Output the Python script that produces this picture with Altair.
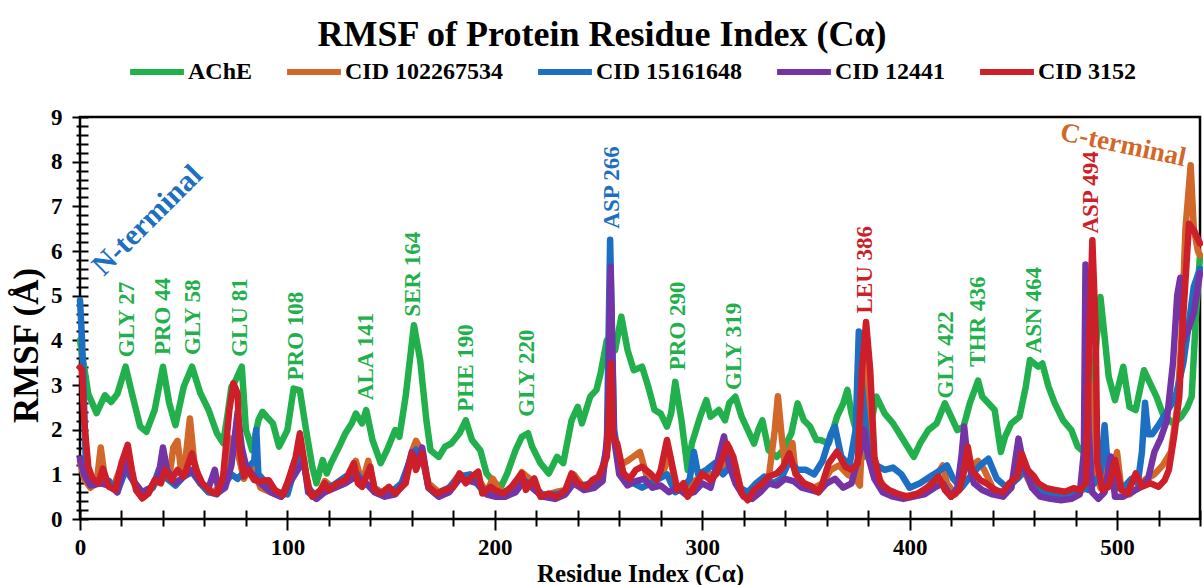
import altair as alt
import pandas as pd

SERIES = ["AChE", "CID 102267534", "CID 15161648", "CID 12441", "CID 3152"]
COLORS = ["#21b04b", "#d2672a", "#1c6fc2", "#7434a6", "#cc1f2a"]
FONT = "Liberation Serif"

# ---- AChE (green)
ache_x = [0, 1, 4, 8, 12, 15, 18, 22, 25, 29, 32, 36, 40, 43, 46, 50, 54, 58, 62, 66, 69, 71, 73, 75, 78, 80, 83, 86, 88,
          90, 93, 96, 100, 103, 106, 109, 112, 114, 117, 119, 121, 125, 128, 131, 133, 136, 138, 141, 145, 148, 152, 154,
          157, 161, 164, 167, 169, 173, 176, 179, 183, 186, 189, 193, 196, 200, 203, 206, 210, 213, 216, 218, 222, 226,
          230, 233, 237, 240, 242, 246, 249, 251, 254, 258, 261, 264, 267, 271, 274, 277, 280, 283, 285, 287, 290, 293,
          295, 299, 302, 304, 308, 311, 313, 316, 319, 322, 325, 327, 329, 332, 336, 339, 343, 346, 349, 352, 355, 357,
          361, 365, 368, 370, 372, 375, 378, 382, 384, 388, 392, 396, 400, 402, 405, 409, 413, 417, 420, 423, 426, 429,
          433, 435, 438, 441, 444, 446, 449, 453, 456, 458, 462, 464, 467, 470, 474, 478, 481, 484, 486, 490, 492, 494,
          496, 499, 503, 506, 509, 513, 516, 519, 522, 527, 531, 534, 536, 538, 540]
ache_y = [4.0, 3.7, 2.8, 2.37, 2.77, 2.62, 2.8, 3.41, 2.82, 2.07, 1.95, 2.44, 3.41, 2.6, 2.1, 2.96, 3.41, 2.82, 2.44, 1.92,
          1.7, 2.29, 2.96, 3.1, 3.41, 2.0, 1.54, 2.21, 2.4, 2.29, 2.14, 1.62, 1.99, 2.92, 2.88, 1.99, 1.17, 0.8, 1.32, 1.02,
          1.25, 1.62, 1.92, 2.14, 2.36, 2.14, 2.44, 1.77, 1.25, 1.54, 1.99, 1.84, 2.74, 4.34, 3.56, 2.21, 1.54, 1.39, 1.62,
          1.69, 1.92, 2.21, 1.77, 1.54, 1.02, 0.8, 0.72, 1.02, 1.54, 1.84, 1.92, 1.62, 1.25, 1.02, 1.39, 1.25, 2.21, 2.51,
          2.14, 2.74, 2.89, 3.26, 4.0, 3.78, 4.53, 3.78, 3.33, 3.41, 2.96, 2.44, 2.36, 2.07, 2.36, 3.07, 2.21, 1.1, 1.69,
          2.29, 2.66, 2.29, 2.44, 2.21, 2.59, 2.74, 2.29, 1.99, 1.69, 1.99, 2.21, 1.54, 1.39, 1.54, 1.92, 2.59, 2.21, 2.07,
          1.77, 1.77, 1.69, 2.29, 2.59, 2.89, 2.36, 1.84, 1.39, 2.29, 2.74, 2.36, 2.14, 1.84, 1.54, 1.39, 1.69, 1.99, 2.14,
          2.59, 2.29, 1.99, 2.07, 2.59, 3.1, 2.74, 2.59, 2.44, 1.5, 1.84, 2.14, 2.29, 2.96, 3.56, 3.41, 3.48, 2.96, 2.59,
          2.21, 1.99, 1.62, 1.5, 1.5, 3.93, 4.97, 4.08, 3.18, 2.66, 3.41, 2.51, 2.44, 3.33, 3.03, 2.74, 2.36, 2.14, 2.29,
          2.51, 2.74, 4.5, 5.9]

# ---- CID 102267534 (orange)
c1_x = [0, 2, 5, 8, 10, 12, 16, 20, 23, 26, 30, 35, 39, 43, 45, 47, 49, 51, 53, 55, 58, 62, 66, 70, 73, 76, 79, 83, 87,
        92, 97, 101, 105, 108, 111, 115, 118, 122, 127, 130, 133, 136, 139, 142, 147, 152, 157, 160, 162, 165, 168, 173,
        178, 183, 188, 192, 196, 199, 203, 208, 213, 218, 223, 229, 234, 238, 243, 248, 252, 254.5, 256, 257.5, 260,
        264, 267, 270, 273, 277, 281, 284, 287, 291, 294, 298, 302, 306, 310, 313, 316, 319, 323, 328, 332, 335, 336.5,
        338, 340, 342, 343.5, 345, 349, 354, 358, 362, 366, 370, 374, 376, 378, 379.5, 381, 384, 388, 392, 397, 402,
        407, 412, 416, 418, 422, 425, 427, 430, 433, 436, 440, 445, 449, 452.5, 455, 459, 463, 468, 473, 478, 482, 485,
        487, 488.2, 489.5, 492, 494.5, 497, 500, 502, 506, 510, 514, 518, 522, 526, 529, 531, 533, 535.5, 537, 539, 540]
c1_y = [1.3, 0.9, 0.7, 0.8, 1.6, 0.9, 0.7, 1.2, 1.5, 0.8, 0.5, 0.7, 1.0, 0.9, 1.6, 1.75, 1.0, 1.4, 2.25, 1.3, 0.8, 0.6,
        0.65, 0.9, 1.8, 1.5, 0.9, 1.2, 0.7, 0.6, 0.5, 0.9, 1.5, 1.2, 0.6, 0.55, 0.85, 0.7, 0.8, 1.0, 1.3, 0.8, 1.3, 0.7,
        0.55, 0.6, 0.9, 1.5, 1.75, 1.5, 0.8, 0.6, 0.7, 1.0, 0.9, 0.9, 0.6, 0.9, 0.6, 0.65, 1.05, 0.85, 0.5, 0.6, 0.65,
        1.0, 0.7, 0.85, 1.0, 1.6, 3.0, 1.8, 1.2, 1.3, 1.4, 1.5, 1.0, 0.9, 1.0, 1.5, 0.8, 0.6, 0.8, 0.9, 1.0, 1.0, 1.2,
        1.6, 1.2, 0.6, 0.5, 0.7, 0.9, 2.0, 2.75, 2.0, 1.1, 1.5, 1.7, 1.0, 0.8, 0.7, 0.8, 1.1, 1.2, 1.0, 0.9, 0.75, 2.8,
        3.8, 2.0, 1.0, 0.7, 0.55, 0.5, 0.55, 0.6, 0.9, 1.2, 0.8, 0.55, 0.8, 1.5, 1.2, 1.3, 1.1, 0.7, 0.55, 0.7, 1.5,
        1.1, 0.7, 0.55, 0.5, 0.45, 0.5, 0.6, 0.7, 2.0, 3.0, 1.0, 0.7, 1.4, 0.8, 1.5, 0.7, 0.55, 0.7, 0.9, 1.0, 1.2,
        1.5, 2.5, 4.0, 6.5, 7.92, 6.5, 6.0, 5.9]

# ---- CID 15161648 (blue)
c2_x = [0, 1, 3, 6, 10, 14, 18, 22, 25, 30, 35, 38, 42, 46, 50, 54, 58, 62, 66, 70, 73, 76, 80, 84, 85, 86, 90, 95, 100,
        104, 107, 110, 114, 118, 122, 128, 133, 137, 141, 146, 150, 155, 159, 162, 165, 168, 172, 178, 183, 188, 193,
        198, 203, 208, 213, 218, 223, 229, 234, 238, 242, 247, 251, 254, 255.6, 257.5, 260, 263, 267, 271, 275, 279,
        283, 287, 291, 294, 296, 298, 302, 306, 310, 314, 318, 322, 326, 330, 334, 338, 342, 346, 350, 354, 358, 362,
        364, 367, 371, 374, 375.5, 377, 380, 384, 388, 392, 396, 400, 405, 410, 415, 418, 421, 425, 430, 434, 438, 442,
        447, 452, 456, 460, 465, 470, 475, 480, 484, 486, 489, 492, 494, 496, 499, 503, 507, 510, 512, 513.5, 515, 517,
        520, 524, 528, 532, 535, 537, 540]
c2_y = [4.9, 4.0, 1.0, 0.8, 0.8, 0.85, 0.6, 1.1, 0.9, 0.55, 0.7, 1.1, 0.9, 0.75, 0.95, 1.05, 0.8, 0.6, 0.55, 0.8, 1.0,
        0.9, 1.1, 1.3, 2.0, 1.0, 0.8, 0.6, 0.55, 1.2, 1.5, 0.7, 0.5, 0.7, 0.75, 0.95, 1.05, 0.8, 0.7, 0.55, 0.6, 0.8,
        1.3, 1.55, 1.4, 0.7, 0.55, 0.7, 0.95, 1.0, 0.7, 0.6, 0.55, 0.6, 0.9, 0.75, 0.55, 0.55, 0.6, 0.85, 0.75, 0.8,
        0.95, 1.6, 6.25, 2.0, 1.3, 0.9, 0.8, 0.7, 0.8, 0.9, 1.0, 0.6, 0.7, 0.9, 1.5, 1.0, 1.1, 1.25, 1.0, 1.2, 0.7,
        0.6, 0.8, 0.95, 0.8, 0.9, 1.3, 1.1, 1.1, 1.0, 1.3, 1.9, 2.07, 1.4, 1.2, 2.0, 4.2, 3.0, 1.5, 1.2, 1.1, 1.15, 1.0,
        0.7, 0.8, 0.95, 1.1, 1.2, 0.9, 0.7, 1.0, 1.2, 1.35, 0.9, 0.7, 0.9, 1.1, 0.8, 0.6, 0.55, 0.5, 0.6, 0.7, 0.65,
        0.8, 1.0, 2.1, 0.9, 0.7, 0.7, 0.9, 0.8, 1.5, 2.6, 1.9, 1.9, 2.1, 2.4, 2.7, 3.5, 4.5, 5.2, 5.6]

# ---- CID 12441 (purple)
c3_x = [0, 2, 5, 10, 14, 18, 22, 25, 30, 34, 38, 40, 42, 46, 50, 54, 58, 62, 65, 67, 70, 73, 76, 78, 80, 83, 87, 92, 97,
        101, 105, 108, 110, 114, 118, 123, 128, 133, 138, 142, 147, 152, 156, 160, 163, 165, 168, 173, 178, 183, 188,
        192, 196, 200, 205, 210, 214, 218, 223, 229, 234, 238, 243, 248, 252, 254.5, 255.8, 257.5, 260, 264, 268, 272,
        276, 280, 284, 288, 292, 296, 300, 304, 308, 310.5, 313, 316, 320, 324, 328, 332, 336, 340, 344, 348, 352, 356,
        360, 364, 368, 372, 376, 378, 380, 383, 387, 392, 397, 402, 407, 412, 416, 420, 423, 425, 426.3, 428, 431, 435,
        440, 445, 449, 452.5, 455, 459, 463, 468, 473, 478, 482, 484, 484.8, 486.3, 488, 491, 494, 497, 499, 503, 507,
        511, 515, 518, 521, 524, 527, 529, 530.5, 532, 534, 537, 540]
c3_y = [1.35, 1.0, 0.75, 0.8, 0.75, 0.6, 1.3, 0.9, 0.6, 0.7, 1.0, 1.6, 1.1, 0.8, 0.95, 1.1, 0.8, 0.7, 1.1, 0.6, 0.7,
        1.2, 2.4, 1.6, 1.2, 1.0, 0.8, 0.6, 0.5, 0.8, 1.1, 1.3, 0.6, 0.45, 0.6, 0.7, 0.8, 0.95, 0.8, 0.6, 0.5, 0.55, 0.8,
        1.5, 1.3, 1.6, 0.7, 0.5, 0.6, 0.9, 0.85, 0.8, 0.55, 0.5, 0.5, 0.6, 0.85, 0.7, 0.5, 0.45, 0.55, 0.8, 0.65, 0.7,
        0.85, 2.0, 5.65, 1.8, 1.0, 0.75, 0.85, 0.9, 0.7, 0.75, 0.6, 0.7, 0.55, 0.6, 0.8, 0.7, 1.4, 1.85, 1.2, 0.8, 0.5,
        0.45, 0.6, 0.8, 0.75, 0.9, 0.85, 0.7, 0.65, 0.6, 0.8, 0.9, 0.7, 0.8, 1.5, 2.0, 1.4, 0.9, 0.6, 0.5, 0.45, 0.5,
        0.55, 0.7, 0.8, 0.5, 0.7, 1.4, 2.07, 1.3, 0.8, 0.65, 0.55, 0.5, 0.7, 1.8, 1.2, 0.7, 0.5, 0.45, 0.42, 0.45, 0.55,
        1.5, 5.7, 2.0, 0.6, 0.45, 0.6, 1.4, 0.5, 0.5, 0.6, 0.7, 0.9, 1.5, 1.8, 2.2, 3.5, 5.0, 5.4, 4.0, 4.2, 4.6, 5.5]

# ---- CID 3152 (red)
c4_x = [0, 1, 2, 4, 6, 9, 11, 14, 17, 20, 23, 25, 27, 30, 33, 36, 39, 41, 44, 47, 50, 54, 56, 59, 63, 66, 69, 72, 74, 76,
        77, 79, 81, 84, 87, 91, 94, 98, 101, 104, 106, 108, 110, 112, 116, 118, 120, 124, 128, 132, 134, 136, 140, 142,
        145, 149, 152, 157, 160, 162, 165, 168, 172, 176, 180, 183, 186, 189, 192, 194, 198, 200, 204, 208, 213, 215,
        219, 222, 226, 230, 234, 237, 240, 244, 247, 250, 254, 256, 257, 259, 262, 265, 268, 271, 275, 278, 280, 283,
        286, 288, 291, 293, 296, 300, 304, 307, 310, 312, 315, 317, 319, 322, 325, 329, 332, 336, 339, 342, 345, 349,
        353, 356, 358, 361, 365, 369, 372, 375, 377, 379, 381, 383, 386, 390, 394, 399, 404, 409, 414, 417, 420, 424,
        426, 428, 430, 434, 437, 441, 445, 448, 452, 454, 457, 460, 462, 466, 470, 475, 479, 482, 485, 486.8, 488.1,
        489.7, 490.5, 493, 496, 499, 502, 505, 509, 512, 516, 520, 523, 525, 527.5, 530, 532, 534.7, 537, 540]
c4_y = [3.4, 3.33, 2.21, 1.17, 0.91, 0.8, 1.13, 0.72, 0.65, 1.25, 1.66, 1.1, 0.65, 0.46, 0.57, 0.87, 0.8, 1.1, 0.87,
        1.1, 0.95, 1.47, 1.1, 0.8, 0.61, 0.57, 0.95, 2.44, 3.04, 2.81, 1.55, 0.95, 1.1, 0.87, 0.85, 0.87, 0.65, 0.54,
        0.95, 1.39, 1.92, 1.32, 0.72, 0.5, 0.65, 0.8, 0.65, 0.8, 0.87, 1.25, 0.8, 0.72, 1.17, 0.65, 0.57, 0.72, 0.57,
        0.8, 1.47, 1.1, 1.47, 0.72, 0.57, 0.65, 0.72, 1.02, 0.8, 0.95, 1.06, 0.57, 0.72, 0.65, 0.57, 0.72, 1.02, 0.65,
        0.91, 0.5, 0.57, 0.5, 0.65, 1.02, 0.8, 0.72, 0.87, 0.95, 1.39, 3.48, 1.84, 1.69, 1.02, 0.9, 1.1, 1.17, 1.02,
        0.87, 1.1, 1.77, 1.1, 0.65, 0.8, 0.5, 0.72, 1.02, 0.87, 1.02, 1.39, 1.69, 1.39, 0.95, 0.57, 0.42, 0.65, 0.8,
        0.95, 1.02, 1.17, 1.47, 1.02, 0.8, 0.72, 0.6, 0.8, 1.25, 1.51, 1.17, 1.1, 1.25, 3.33, 4.41, 3.33, 1.39, 0.8,
        0.65, 0.57, 0.5, 0.57, 0.72, 0.95, 0.65, 0.5, 0.65, 1.02, 1.62, 1.1, 0.87, 0.8, 0.65, 0.6, 0.8, 0.95, 1.47,
        1.1, 0.95, 0.8, 0.69, 0.65, 0.61, 0.69, 0.65, 0.8, 4.23, 6.24, 4.23, 1.25, 0.65, 0.72, 1.32, 0.65, 0.57, 1.02,
        0.72, 0.8, 0.72, 0.87, 1.1, 1.84, 2.74, 4.6, 6.61, 6.47, 6.17]

# ---- annotations
vert_text = ["GLY 27", "PRO 44", "GLY 58", "GLU 81", "PRO 108", "ALA 141", "SER 164", "PHE 190", "GLY 220",
             "ASP 266", "PRO 290", "GLY 319", "LEU 386", "GLY 422", "THR 436", "ASN 464", "ASP 494"]
vert_x = [22.6, 40, 54.4, 77, 104, 137.8, 160.4, 186, 215.3, 256.3, 288.5, 315.5, 378.6, 417.6, 433, 460, 487.5]
vert_y = [3.62, 3.67, 3.67, 3.63, 3.1, 2.66, 4.53, 2.4, 2.29, 6.5, 3.33, 2.89, 4.6, 2.7, 3.41, 3.71, 6.39]
vert_group = ["g", "g", "g", "g", "g", "g", "g", "g", "g", "b", "g", "g", "r", "g", "g", "g", "r"]

nterm_text, nterm_x, nterm_y = ["N-terminal"], [32.5], [6.68]
cterm_text, cterm_x, cterm_y = ["C-terminal"], [502.9], [8.37]

rows = []
for name, xs, ys in [(SERIES[0], ache_x, ache_y), (SERIES[1], c1_x, c1_y), (SERIES[2], c2_x, c2_y),
                     (SERIES[3], c3_x, c3_y), (SERIES[4], c4_x, c4_y)]:
    assert len(xs) == len(ys), name
    for x, y in zip(xs, ys):
        rows.append({"series": name, "residue": x, "rmsf": y})
df = pd.DataFrame(rows)

ann = pd.DataFrame({"text": vert_text, "residue": vert_x, "rmsf": vert_y, "grp": vert_group})
nt = pd.DataFrame({"text": nterm_text, "residue": nterm_x, "rmsf": nterm_y})
ct = pd.DataFrame({"text": cterm_text, "residue": cterm_x, "rmsf": cterm_y})

x_ticks = list(range(0, 541, 20))
y_ticks = [round(i * 0.2, 1) for i in range(46)]

x_axis = alt.Axis(
    values=x_ticks, labelExpr="datum.value % 100 === 0 ? datum.label : ''",
    title="Residue Index (Cα)", domain=False, offset=-9, grid=False, labelOverlap=False, labelFlush=False,
    tickSize={"condition": {"test": "datum.value % 100 === 0", "value": 20}, "value": 16},
    tickWidth=2, tickColor="black", labelFont=FONT, labelFontWeight="bold", labelFontSize=23,
    labelColor="black", labelPadding=6, titleFont=FONT, titleFontWeight="bold", titleFontSize=25,
    titleColor="black", titleY=71, titleBaseline="alphabetic",
)
y_axis = alt.Axis(
    values=y_ticks, labelOverlap=False, labelFlush=False,
    labelExpr="abs(datum.value - round(datum.value)) < 0.01 ? format(datum.value, '.0f') : ''",
    title="RMSF (Å)", domain=False, offset=-8, grid=False,
    tickSize={"condition": {"test": "abs(datum.value - round(datum.value)) < 0.01", "value": 16}, "value": 12},
    tickWidth=2, tickColor="black", labelFont=FONT, labelFontWeight="bold", labelFontSize=23,
    labelColor="black", labelPadding=10, titleFont=FONT, titleFontWeight="bold", titleFontSize=35,
    titleColor="black", titleX=-62, titleY=228, titleAngle=270, titleAlign="center", titleBaseline="middle",
)

xenc = alt.X("residue:Q", scale=alt.Scale(domain=[0, 540], nice=False, zero=False), axis=x_axis)
yenc = alt.Y("rmsf:Q", scale=alt.Scale(domain=[0, 9], nice=False), axis=y_axis)
cenc = alt.Color(
    "series:N", scale=alt.Scale(domain=SERIES, range=COLORS),
    legend=alt.Legend(
        title=None, orient="none", legendX=47, legendY=-75, direction="horizontal",
        symbolType="stroke", symbolStrokeWidth=6, symbolSize=2900, labelFont=FONT,
        labelFontSize=24, labelFontWeight="bold", labelColor="black", labelOffset=1, columnPadding=22,
    ),
)

base = alt.Chart(df)
lines = [
    base.transform_filter(alt.datum.series == s).mark_line(
        strokeWidth=6.5, strokeJoin="round", strokeCap="round"
    ).encode(x=xenc, y=yenc, color=cenc)
    for s in SERIES
]

grp_color = {"g": COLORS[0], "b": COLORS[2], "r": COLORS[4]}
texts = [
    alt.Chart(ann).transform_filter(alt.datum.grp == g).mark_text(
        angle=270, align="left", baseline="middle", font=FONT, fontWeight="bold", fontSize=23, color=c
    ).encode(x=xenc, y=yenc, text="text:N")
    for g, c in grp_color.items()
]
ntext = alt.Chart(nt).mark_text(
    angle=315, align="center", baseline="middle", font=FONT, fontWeight="bold", fontSize=30, color=COLORS[2]
).encode(x=xenc, y=yenc, text="text:N")
ctext = alt.Chart(ct).mark_text(
    angle=12, align="center", baseline="middle", font=FONT, fontWeight="bold", fontSize=27, color=COLORS[1]
).encode(x=xenc, y=yenc, text="text:N")

chart = alt.layer(*lines, *texts, ntext, ctext).properties(
    width=1120, height=402,
    autosize=alt.AutoSizeParams(type="none"),
    padding={"left": 80, "top": 117, "right": 3, "bottom": 66},
    title=alt.TitleParams(
        "RMSF of Protein Residue Index (Cα)", font=FONT, fontWeight="bold", fontSize=36, color="black",
        anchor="middle", frame="group", offset=30, dx=-38, dy=70, baseline="alphabetic",
    ),
    background="white",
).configure_view(stroke="black", strokeWidth=2.5)

chart.save("out.html", embed_options={"renderer": "svg", "actions": False})
